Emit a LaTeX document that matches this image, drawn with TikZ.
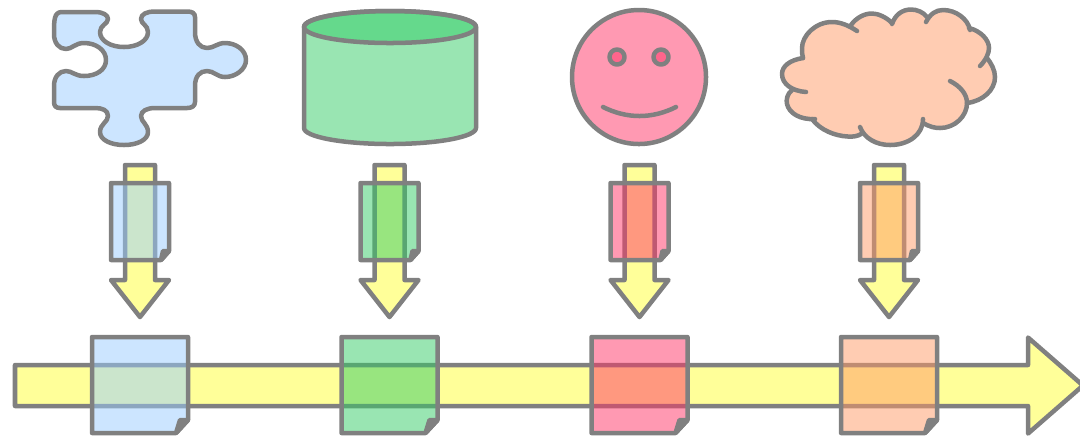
\documentclass[tikz,border=0pt]{standalone}
\usepackage{tikz}

\definecolor{edgegray}{HTML}{808080}
\definecolor{arrowyellow}{HTML}{FFFF99}
\definecolor{puzzleblue}{HTML}{99CCFF}
\definecolor{dbgreen}{HTML}{33CC66}
\definecolor{facepink}{HTML}{FF3366}
\definecolor{cloudpeach}{HTML}{FF9966}

\tikzset{
  outline/.style={draw=edgegray, line width=0.045cm, line join=round, line cap=round},
  arrowbody/.style={outline, fill=arrowyellow},
  seethru/.style={outline, fill=#1, fill opacity=0.5, draw opacity=1},
  foldcorner/.style={outline, fill=edgegray}
}

% the bumps of the cloud, used for its fill and for its strokes
\newcommand{\bumpA}{(803,58) .. controls (790,60) and (782,66) .. (782,74) .. controls (782,84) and (792,91) .. (806,92)}
\newcommand{\bumpB}{(792,90) .. controls (787,94) and (786,100) .. (787,104) .. controls (789,113) and (800,120) .. (815,119)}
\newcommand{\bumpC}{(812,119) .. controls (820,130) and (835,136) .. (848,136.5) .. controls (853,137) and (858,136) .. (861,134)}
\newcommand{\bumpD}{(860,127) .. controls (864,138) and (876,145) .. (890,145) .. controls (908,145) and (923,135) .. (923,119)}
\newcommand{\bumpE}{(923,123) .. controls (930,127) and (935,128) .. (940,128) .. controls (955,128) and (967,116) .. (967,103) .. controls (967,94) and (960,86) .. (950,81)}
\newcommand{\bumpF}{(967,103) .. controls (983,101) and (995,90) .. (995,77) .. controls (995,70) and (991,63) .. (987,58)}
\newcommand{\bumpG}{(980,66) .. controls (986,60) and (989,53) .. (989,48) .. controls (989,40) and (981,31) .. (969,28)}
\newcommand{\bumpH}{(970,30) .. controls (968,19) and (956,10) .. (943,10) .. controls (936,10) and (930,14) .. (926,22)}
\newcommand{\bumpI}{(927,17) .. controls (923,12) and (917,9.5) .. (911,9.5) .. controls (902,9.5) and (895,15) .. (892,24)}
\newcommand{\bumpJ}{(892,23) .. controls (886,17) and (878,13.5) .. (872,13.5) .. controls (864,13.5) and (856,18) .. (851,25)}
\newcommand{\bumpK}{(857,31) .. controls (848,25) and (840,22) .. (832,22) .. controls (815,22) and (802,36) .. (802,48) .. controls (802,52) and (802,55) .. (803,58)}

\begin{document}
\begin{tikzpicture}[x=0.01cm, y=-0.01cm]
\useasboundingbox (0,0) rectangle (1080,435);

% long arrow along the bottom
\draw [arrowbody] (15,365) -- (1028,365) -- (1028,337.5) -- (1083,385.5) -- (1028,433.5) -- (1028,406) -- (15,406) -- cycle;

% small arrows with a sheet on top, and the big sheets
\foreach \x/\sheetcol in {140/puzzleblue, 389.5/dbgreen, 639.5/facepink, 889/cloudpeach} {
  \begin{scope}[shift={(\x,0)}]
    \draw [arrowbody] (-15,165) -- (15,165) -- (15,280) -- (29,280) -- (0,317) -- (-29,280) -- (-15,280) -- cycle;
    \draw [seethru=\sheetcol] (-29,183) -- (29,183) -- (29,251) -- (21,260) -- (-29,260) -- cycle;
    \draw [foldcorner] (29,251) -- (23,251) -- (21,260) -- cycle;
    \draw [seethru=\sheetcol] (-48,337) -- (48,337) -- (48,420) -- (36,433) -- (-48,433) -- cycle;
    \draw [foldcorner] (48,420) -- (40,420) -- (36,433) -- cycle;
  \end{scope}
}

% puzzle piece
\draw [seethru=puzzleblue] (54,34) .. controls (54,20) and (54,12) .. (62,12) -- (95,12) .. controls (103,12) and (108,15) .. (108,19) .. controls (108,24) and (100,25) .. (100,32) .. controls (100,41) and (111,47) .. (124,47) .. controls (137,47) and (148,41) .. (148,32) .. controls (148,25) and (141,24) .. (141,19) .. controls (141,14) and (147,11.5) .. (155,11.5) -- (187,11.5) .. controls (192,11.5) and (195,13) .. (195,17) -- (195,32) .. controls (195,42) and (200,48) .. (207,48) .. controls (214,48) and (217,43) .. (225,43) .. controls (236,43) and (246,50) .. (246,60) .. controls (246,69) and (236,77) .. (225,77) .. controls (217,77) and (214,71) .. (207,71) .. controls (200,71) and (195,76) .. (195,86) -- (195,102) .. controls (195,106) and (192,108) .. (187,108) -- (155,108) .. controls (147,108) and (141,111) .. (141,116) .. controls (141,122) and (148,124) .. (148,132) .. controls (148,140) and (137,145) .. (124,145) .. controls (111,145) and (100,140) .. (100,132) .. controls (100,124) and (108,122) .. (108,116) .. controls (108,110) and (102,108) .. (95,108) -- (60,108) .. controls (56,108) and (54,106) .. (54,102) -- (54,86) .. controls (54,77) and (59,71) .. (66,71) .. controls (72,71) and (75,76) .. (84,76) .. controls (96,76) and (106,70) .. (106,60) .. controls (106,50) and (96,43) .. (84,43) .. controls (75,43) and (72,49) .. (66,49) .. controls (59,49) and (54,43) .. (54,34) -- cycle;

% database
\draw [seethru=dbgreen] (304,27) -- (304,128) arc[start angle=180, end angle=0, x radius=86, y radius=16] -- (476,27) arc[start angle=0, end angle=-180, x radius=86, y radius=16] -- cycle;
\draw [seethru=dbgreen] (390,27) ellipse [x radius=86, y radius=16];

% smiley
\draw [seethru=facepink] (639,77) circle [radius=67];
\draw [seethru=facepink] (617,57) circle [radius=7.5];
\draw [seethru=facepink] (661,57) circle [radius=7.5];
\draw [outline] (603,107) .. controls (627,119) and (652,119) .. (676,107);

% cloud, first the fill, then each bump on its own
\fill [cloudpeach, fill opacity=0.5] \bumpA -- \bumpB -- \bumpC -- \bumpD -- \bumpE -- \bumpF -- \bumpG -- \bumpH -- \bumpI -- \bumpJ -- \bumpK -- cycle;
\draw [outline] \bumpA;
\draw [outline] \bumpB;
\draw [outline] \bumpC;
\draw [outline] \bumpD;
\draw [outline] \bumpE;
\draw [outline] \bumpF;
\draw [outline] \bumpG;
\draw [outline] \bumpH;
\draw [outline] \bumpI;
\draw [outline] \bumpJ;
\draw [outline] \bumpK;
\end{tikzpicture}
\end{document}
